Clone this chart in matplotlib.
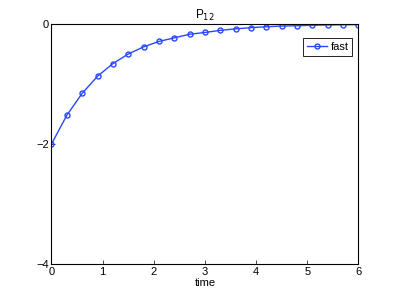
import matplotlib
matplotlib.use("Agg")
import matplotlib.pyplot as plt

# sample times and values
time = [0.0, 0.3, 0.6, 0.9, 1.2, 1.5, 1.8, 2.1, 2.4, 2.7, 3.0,
        3.3, 3.6, 3.9, 4.2, 4.5, 4.8, 5.1, 5.4, 5.7, 6.0]
fast = [-2.0, -1.52, -1.155, -0.87, -0.66, -0.50, -0.38, -0.29, -0.23, -0.17, -0.14,
        -0.105, -0.08, -0.06, -0.045, -0.033, -0.028, -0.02, -0.015, -0.012, -0.009]

x_ticks = [0, 1, 2, 3, 4, 5, 6]
y_ticks = [-4, -2, 0]

plt.rcParams["font.family"] = ["Liberation Sans", "DejaVu Sans"]
plt.rcParams["font.size"] = 8

fig = plt.figure(figsize=(3.96, 2.97), dpi=100)
ax = fig.add_axes([0.13, 0.111, 0.775, 0.808])

ax.plot(time, fast, color="#2848ff", marker="o", markersize=3.6,
        markerfacecolor="none", markeredgewidth=1.0, linewidth=1.0, label="fast")

ax.set_xlim(0, 6)
ax.set_ylim(-4, 0)
ax.set_xticks(x_ticks)
ax.set_yticks(y_ticks)
ax.set_yticklabels(["\u22124", "\u22122", "0"])
ax.tick_params(direction="in", length=3, width=0.5, pad=2, labelsize=8)
for s in ax.spines.values():
    s.set_linewidth(0.8)

ax.set_title("P$_{12}$", fontsize=8.5, pad=4)
ax.set_xlabel("time", fontsize=8, labelpad=1)

leg = ax.legend(loc="upper right", bbox_to_anchor=(0.98, 0.94), borderaxespad=0,
                fontsize=8, fancybox=False, framealpha=1, edgecolor="black",
                handlelength=1.8, handletextpad=0.3, borderpad=0.35)
leg.get_frame().set_linewidth(0.6)

fig.savefig("out.png", dpi=100)
